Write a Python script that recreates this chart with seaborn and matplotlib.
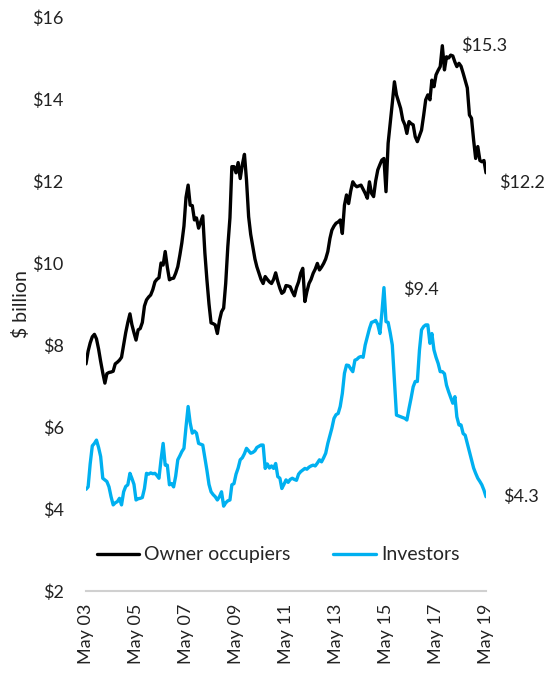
import numpy as np
import pandas as pd
import matplotlib
matplotlib.use("Agg")
import matplotlib.pyplot as plt
import matplotlib.dates as mdates
from matplotlib.lines import Line2D
import seaborn as sns

# Monthly housing finance commitments, $ billion, May 2003 - May 2019
start_month = "2003-05-01"

owner_occupiers = (
    [7.54, 7.85, 8.05, 8.2, 8.26, 8.15, 7.9, 7.6, 7.32, 7.07, 7.3, 7.33]          # May03-Apr04
    + [7.34, 7.36, 7.54, 7.58, 7.63, 7.7, 8.0, 8.3, 8.55, 8.76, 8.5, 8.3]        # May04-Apr05
    + [8.12, 8.37, 8.4, 8.55, 8.95, 9.1, 9.17, 9.22, 9.35, 9.54, 9.6, 9.64]      # May05-Apr06
    + [10.0, 9.95, 10.28, 9.9, 9.59, 9.62, 9.63, 9.75, 9.91, 10.2, 10.49, 10.9]  # May06-Apr07
    + [11.6, 11.9, 11.41, 11.4, 11.05, 11.1, 10.85, 11.0, 11.15, 10.24, 9.6, 9.0]  # May07-Apr08
    + [8.54, 8.52, 8.49, 8.28, 8.6, 8.81, 8.9, 9.5, 10.4, 11.1, 12.35, 12.35]    # May08-Apr09
    + [12.2, 12.45, 12.06, 12.4, 12.65, 12.02, 11.13, 10.7, 10.4, 10.1, 9.91, 9.75]  # May09-Apr10
    + [9.6, 9.5, 9.67, 9.6, 9.54, 9.5, 9.6, 9.76, 9.55, 9.38, 9.26, 9.3]         # May10-Apr11
    + [9.45, 9.44, 9.42, 9.3, 9.2, 9.4, 9.54, 9.75, 9.87, 9.06, 9.3, 9.5]        # May11-Apr12
    + [9.6, 9.75, 9.85, 9.99, 9.83, 9.9, 9.99, 10.1, 10.28, 10.6, 10.8, 10.9]    # May12-Apr13
    + [10.97, 11.0, 11.05, 10.72, 11.41, 11.66, 11.45, 11.75, 11.98, 11.9, 11.86, 11.88]  # May13-Apr14
    + [11.9, 11.8, 11.7, 11.58, 11.98, 11.7, 11.62, 12.0, 12.27, 12.4, 12.51, 12.55]      # May14-Apr15
    + [11.74, 12.92, 13.4, 13.9, 14.42, 14.1, 13.93, 13.77, 13.49, 13.37, 13.16, 13.45]   # May15-Apr16
    + [13.4, 13.37, 13.08, 12.96, 13.1, 13.24, 13.6, 13.98, 14.1, 13.98, 14.46, 14.3]     # May16-Apr17
    + [14.59, 14.7, 14.79, 15.3, 14.71, 15.03, 15.0, 15.07, 15.05, 14.9, 14.79, 14.87]    # May17-Apr18
    + [14.8, 14.63, 14.45, 14.27, 13.61, 13.53, 13.0, 12.55, 12.84, 12.5, 12.47, 12.5]    # May18-Apr19
    + [12.2]                                                                              # May19
)

investors = (
    [4.48, 4.54, 5.1, 5.54, 5.6, 5.68, 5.5, 5.28, 4.75, 4.71, 4.67, 4.54]        # May03-Apr04
    + [4.3, 4.1, 4.15, 4.18, 4.26, 4.1, 4.42, 4.55, 4.59, 4.87, 4.75, 4.6]       # May04-Apr05
    + [4.22, 4.25, 4.26, 4.28, 4.5, 4.87, 4.85, 4.88, 4.86, 4.87, 4.82, 4.75]    # May05-Apr06
    + [5.2, 5.6, 5.07, 5.07, 4.59, 4.62, 4.54, 4.8, 5.2, 5.3, 5.4, 5.48]         # May06-Apr07
    + [6.0, 6.5, 6.1, 5.85, 5.9, 5.85, 5.6, 5.58, 5.56, 5.25, 4.95, 4.6]         # May07-Apr08
    + [4.42, 4.35, 4.3, 4.22, 4.3, 4.42, 4.07, 4.15, 4.2, 4.22, 4.59, 4.62]      # May08-Apr09
    + [4.85, 5.0, 5.2, 5.25, 5.35, 5.48, 5.42, 5.36, 5.38, 5.42, 5.5, 5.53]      # May09-Apr10
    + [5.56, 5.56, 4.99, 5.1, 5.0, 5.05, 4.99, 5.11, 4.79, 4.75, 4.5, 4.6]       # May10-Apr11
    + [4.71, 4.65, 4.72, 4.75, 4.72, 4.7, 4.85, 4.91, 4.95, 4.99, 4.97, 5.02]    # May11-Apr12
    + [5.05, 5.07, 5.05, 5.12, 5.2, 5.15, 5.25, 5.36, 5.6, 5.8, 5.97, 6.21]      # May12-Apr13
    + [6.3, 6.33, 6.5, 6.82, 7.31, 7.51, 7.5, 7.42, 7.35, 7.63, 7.65, 7.7]       # May13-Apr14
    + [7.72, 7.7, 8.0, 8.2, 8.4, 8.55, 8.57, 8.6, 8.5, 8.28, 8.77, 9.4]          # May14-Apr15
    + [8.57, 8.55, 8.3, 8.0, 7.15, 6.29, 6.27, 6.25, 6.23, 6.21, 6.17, 6.45]     # May15-Apr16
    + [6.7, 6.98, 7.11, 7.11, 7.88, 8.37, 8.45, 8.49, 8.49, 8.04, 8.28, 7.88]    # May16-Apr17
    + [7.7, 7.55, 7.35, 7.35, 7.3, 7.02, 6.86, 6.72, 6.58, 6.74, 6.25, 6.05]     # May17-Apr18
    + [6.05, 5.84, 5.8, 5.6, 5.4, 5.2, 5.0, 4.87, 4.75, 4.67, 4.59, 4.46]        # May18-Apr19
    + [4.3]                                                                       # May19
)

series_names = ["Owner occupiers", "Investors"]
series_colors = ["#000000", "#00B0F0"]
y_ticks = [2, 4, 6, 8, 10, 12, 14, 16]

dates = pd.date_range(start_month, periods=len(owner_occupiers), freq="MS")
df = pd.concat([
    pd.DataFrame({"date": dates, "value": owner_occupiers, "series": series_names[0]}),
    pd.DataFrame({"date": dates, "value": investors, "series": series_names[1]}),
])

sns.set_theme(style="white")
plt.rcParams["font.family"] = ["Lato", "DejaVu Sans"]

fig = plt.figure(figsize=(5.51, 6.73), dpi=100)
ax = fig.add_axes([86 / 551, 1 - 591 / 673, 400 / 551, (591 - 17) / 673])

sns.lineplot(data=df, x="date", y="value", hue="series", hue_order=series_names,
             palette=series_colors, linewidth=2.4, ax=ax, legend=False)

ax.set_ylim(2, 16)
ax.set_yticks(y_ticks)
ax.set_yticklabels([f"${t}" for t in y_ticks], fontsize=13, color="#222222")
ax.set_xlim(dates[0], dates[-1])
ax.xaxis.set_major_locator(mdates.MonthLocator(bymonth=5, interval=24))
ax.xaxis.set_major_formatter(mdates.DateFormatter("%b %y"))
ax.tick_params(axis="x", rotation=90, labelsize=13, colors="#222222",
               length=5, width=1.2, color="#d0d0d0", direction="out", pad=4)
ax.tick_params(axis="y", length=0, pad=16)
ax.set_xlabel("")
ax.set_ylabel("$ billion", fontsize=14, color="#222222", labelpad=2)

for side in ["top", "right", "left"]:
    ax.spines[side].set_visible(False)
ax.spines["bottom"].set_color("#d0d0d0")
ax.spines["bottom"].set_linewidth(1.5)
ax.grid(False)

# End-point and peak labels
lab = dict(fontsize=13, color="#222222", va="center", ha="left", clip_on=False)
ax.text(dates[180], 15.3, f"${owner_occupiers[171]:.1f}", **lab)
ax.text(dates[-1] + pd.DateOffset(months=6), 11.95, f"${owner_occupiers[-1]:.1f}", **lab)
ax.text(dates[152], 9.35, f"${investors[143]:.1f}", **lab)
ax.text(dates[-1] + pd.DateOffset(months=8), 4.3, f"${investors[-1]:.1f}", **lab)

handles = [Line2D([0], [0], color=c, lw=2.4) for c in series_colors]
ax.legend(handles, series_names, loc="center", bbox_to_anchor=(0.48, 0.063), ncol=2,
          frameon=False, fontsize=14, handlelength=2.2, handletextpad=0.25,
          columnspacing=2.2)

fig.savefig("out.png", dpi=100)
